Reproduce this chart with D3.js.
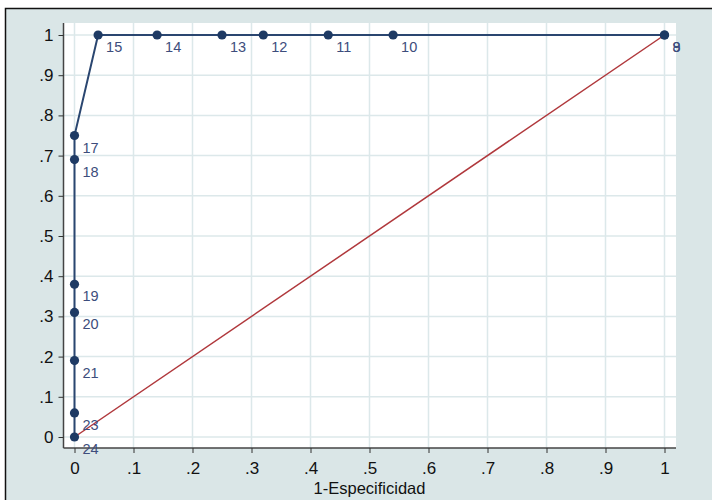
<!DOCTYPE html>
<html>
<head>
<meta charset="utf-8">
<script src="https://cdn.jsdelivr.net/npm/d3@7"></script>
<style>
body{margin:0;background:#fff;}
svg{display:block;font-family:Arial,"Liberation Sans",sans-serif;}
</style>
</head>
<body>
<div id="chart"></div>
<script>

// ROC points: 1-specificity, sensitivity, cut-off label
const fpr    = [1, 1, 0.54, 0.43, 0.32, 0.25, 0.14, 0.04, 0, 0, 0, 0, 0, 0, 0];
const sens   = [1, 1, 1, 1, 1, 1, 1, 1, 0.75, 0.69, 0.38, 0.31, 0.19, 0.06, 0];
const cutLbl = ["9", "8", "10", "11", "12", "13", "14", "15", "17", "18", "19", "20", "21", "23", "24"];

const tickVals = [0, .1, .2, .3, .4, .5, .6, .7, .8, .9, 1];
const tickLbls = ["0", ".1", ".2", ".3", ".4", ".5", ".6", ".7", ".8", ".9", "1"];

const W = 712, H = 500;

const x = d3.scaleLinear().domain([0, 1]).range([74.5, 664.5]);
const y = d3.scaleLinear().domain([0, 1]).range([437, 35]);

const pts = fpr.map((d, i) => ({fx: d, s: sens[i], lbl: cutLbl[i]}));

const svg = d3.select("#chart").append("svg")
	.attr("width", W)
	.attr("height", H);

// outer frame
svg.append("rect")
	.attr("x", 5.5).attr("y", 8.5)
	.attr("width", W + 10).attr("height", H + 10)
	.attr("fill", "#dae6e7")
	.attr("stroke", "#111")
	.attr("stroke-width", 1.5);

// plot region
svg.append("rect")
	.attr("x", 63.5).attr("y", 23)
	.attr("width", 676 - 63.5).attr("height", 448 - 23)
	.attr("fill", "#fff");

// grid
svg.append("g").selectAll("line.gx")
	.data(tickVals)
	.enter().append("line")
	.attr("x1", d => x(d)).attr("x2", d => x(d))
	.attr("y1", 23).attr("y2", 448)
	.attr("stroke", "#dce8ea").attr("stroke-width", 1.5);

svg.append("g").selectAll("line.gy")
	.data(tickVals)
	.enter().append("line")
	.attr("y1", d => y(d)).attr("y2", d => y(d))
	.attr("x1", 63.5).attr("x2", 676)
	.attr("stroke", "#dce8ea").attr("stroke-width", 1.5);

// axes
const xAxis = d3.axisBottom(x)
	.tickValues(tickVals)
	.tickFormat((d, i) => tickLbls[i])
	.tickSize(5)
	.tickSizeOuter(0)
	.tickPadding(9);

const yAxis = d3.axisLeft(y)
	.tickValues(tickVals)
	.tickFormat((d, i) => tickLbls[i])
	.tickSize(5)
	.tickSizeOuter(0)
	.tickPadding(5);

const gx = svg.append("g")
	.attr("transform", "translate(0,448)")
	.call(xAxis);
gx.select(".domain").attr("d", "M63.5,0H676");

const gy = svg.append("g")
	.attr("transform", "translate(63.5,0)")
	.call(yAxis);
gy.select(".domain").attr("d", "M0,23V448");

[gx, gy].forEach(g => {
	g.select(".domain").attr("stroke", "#444").attr("stroke-width", 1.5);
	g.selectAll(".tick line").attr("stroke", "#333").attr("stroke-width", 1);
	g.selectAll(".tick text")
		.attr("fill", "#111")
		.style("font-size", "17px")
		.style("font-family", "Arial, 'Liberation Sans', sans-serif");
});

svg.append("text")
	.attr("x", x(0.5)).attr("y", 494)
	.attr("text-anchor", "middle")
	.attr("fill", "#111")
	.style("font-size", "16.5px")
	.text("1-Especificidad");

// reference diagonal
svg.append("line")
	.attr("x1", x(0)).attr("y1", y(0))
	.attr("x2", x(1)).attr("y2", y(1))
	.attr("stroke", "#b0383c")
	.attr("stroke-width", 1.5);

// ROC curve
const line = d3.line()
	.x(d => x(d.fx))
	.y(d => y(d.s));

svg.append("path")
	.datum(pts)
	.attr("d", line)
	.attr("fill", "none")
	.attr("stroke", "#2a4670")
	.attr("stroke-width", 2);

svg.append("g").selectAll("circle")
	.data(pts)
	.enter().append("circle")
	.attr("cx", d => x(d.fx))
	.attr("cy", d => y(d.s))
	.attr("r", 4.6)
	.attr("fill", "#1e3a64");

svg.append("g").selectAll("text")
	.data(pts)
	.enter().append("text")
	.attr("x", d => x(d.fx) + 8)
	.attr("y", d => y(d.s) + 17)
	.attr("fill", "#3d4d7c")
	.style("font-size", "14.5px")
	.text(d => d.lbl);

</script>
</body>
</html>
